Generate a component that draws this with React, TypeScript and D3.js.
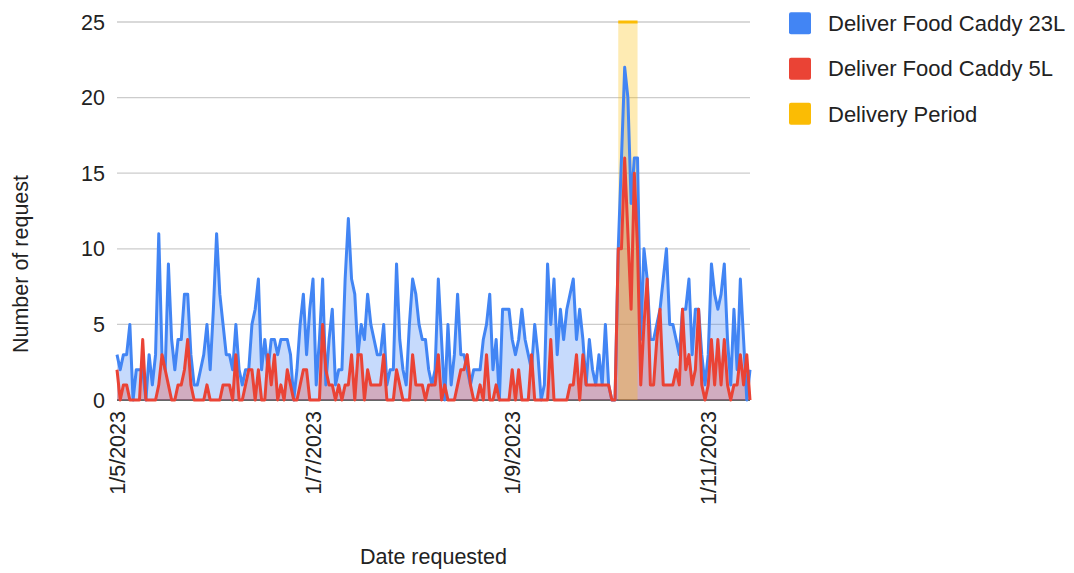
import React from "react";
import * as d3 from "d3";

// ---- data ----
const startDate = "2023-05-01"; // first day of daily series
const blue23L = [
  3, 2, 3, 3, 5, 0, 2, 2, 2, 0,
  3, 1, 3, 11, 3, 2, 9, 4, 2, 4,
  4, 7, 7, 3, 1, 1, 2, 3, 5, 2,
  6, 11, 7, 5, 3, 3, 2, 5, 2, 1,
  2, 2, 5, 6, 8, 2, 4, 2, 4, 4,
  3, 4, 4, 4, 3, 0, 2, 5, 7, 3,
  6, 8, 1, 4, 8, 1, 4, 6, 1, 2,
  2, 8, 12, 8, 7, 3, 5, 4, 7, 5,
  4, 3, 3, 5, 1, 2,
  2, 9, 4, 2, 1, 5, 8, 7, 5, 4, 4, 2, 1, 2, 8, 4, 0, 5, 1, 3, 7, 3, 3, 2, 1, 2,
  2, 2, 4, 5, 7, 2, 4, 0, 6, 6, 6, 4, 3, 4, 6, 4, 3, 2, 5, 3,
  0, 1, 9, 5, 8, 3, 6, 4, 6, 7, 8, 4, 6, 4, 1, 4, 2, 1, 3, 1,
  5, 1, 0, 0, 10, 16, 22, 20, 13, 16, 16, 4, 10, 8, 4, 4, 5, 6, 8, 10,
  5, 5, 4, 3, 6, 6, 8, 3, 6, 6, 3, 1, 3, 9, 7, 6, 7, 9, 4, 1,
  6, 2, 8, 4, 0, 2,
];
const red5L = [
  2, 0, 1, 1, 0, 0, 0, 0, 4, 0,
  0, 0, 0, 1, 3, 2, 1, 0, 0, 1,
  1, 2, 4, 1, 0, 0, 0, 0, 1, 0,
  0, 0, 0, 1, 1, 1, 0, 3, 0, 0,
  1, 2, 2, 0, 2, 0, 0, 3, 1, 3,
  0, 1, 0, 2, 1, 0, 0, 1, 2, 2,
  0, 0, 0, 0, 5, 2, 1, 1, 0, 1,
  0, 1, 1, 3, 0, 3, 3, 0, 2, 1,
  1, 1, 1, 3, 0, 0,
  0, 2, 1, 0, 0, 0, 3, 1, 1, 1, 0, 1, 1, 1, 3, 0, 1, 0, 0, 0, 1, 2, 2, 3, 1, 0,
  0, 1, 0, 3, 0, 0, 1, 0, 0, 0, 0, 2, 0, 2, 0, 0, 0, 3, 0, 0,
  0, 0, 0, 4, 0, 0, 0, 0, 0, 1, 1, 3, 0, 3, 1, 1, 1, 1, 1, 1,
  1, 1, 0, 0, 10, 10, 16, 11, 6, 15, 10, 1, 5, 8, 1, 1, 4, 6, 1, 1,
  1, 1, 2, 1, 6, 2, 3, 1, 2, 6, 1, 0, 1, 4, 1, 4, 1, 4, 1, 0,
  1, 1, 3, 1, 3, 0,
];
const deliveryPeriod = ["2023-10-04", "2023-10-10"];
const deliveryLevel = 25;
const yTicks = [0, 5, 10, 15, 20, 25];
const xTickDates = ["2023-05-01", "2023-07-01", "2023-09-01", "2023-11-01"];
const xTickLabels = ["1/5/2023", "1/7/2023", "1/9/2023", "1/11/2023"];
const seriesNames = ["Deliver Food Caddy 23L", "Deliver Food Caddy 5L", "Delivery Period"];
const seriesColors = ["#4285f4", "#ea4335", "#fbbc04"];

const FONT = "Arial, 'Liberation Sans', sans-serif";

export default function App() {
  const parse = d3.timeParse("%Y-%m-%d");
  const start = parse(startDate) as Date;
  const dates = blue23L.map((_, i) => d3.timeDay.offset(start, i));

  const left = 117, right = 750, top = 22, bottom = 400;
  const x = d3.scaleTime().domain([dates[0], dates[dates.length - 1]]).range([left, right]);
  const y = d3.scaleLinear().domain([0, 25]).range([bottom, top]);

  const areaGen = d3
    .area<number>()
    .x((_, i) => x(dates[i]))
    .y0(y(0))
    .y1((d) => y(d));
  const lineGen = d3
    .line<number>()
    .x((_, i) => x(dates[i]))
    .y((d) => y(d));

  const p0 = parse(deliveryPeriod[0]) as Date;
  const p1 = parse(deliveryPeriod[1]) as Date;
  const periodDays = d3.timeDay.range(p0, d3.timeDay.offset(p1, 1));
  const periodArea = d3
    .area<Date>()
    .x((d) => x(d))
    .y0(y(0))
    .y1(y(deliveryLevel));
  const periodLine = d3
    .line<Date>()
    .x((d) => x(d))
    .y(y(deliveryLevel));

  const legendY = [23.3, 68.7, 113.8];

  return (
    <svg
      width={1074}
      height={573}
      style={{ position: "absolute", left: 0, top: 0, background: "#fff" }}
      fontFamily={FONT}
    >
      {/* gridlines */}
      {yTicks.map((t) =>
        t === 0 ? null : (
          <line key={t} x1={left} x2={right} y1={y(t)} y2={y(t)} stroke="#cccccc" strokeWidth={1.3} />
        )
      )}
      {/* y tick labels */}
      {yTicks.map((t) => (
        <text key={t} x={105} y={y(t)} dy="0.35em" textAnchor="end" fontSize={21.5} fill="#222">
          {t}
        </text>
      ))}
      {/* baseline */}
      <line x1={left} x2={right} y1={y(0)} y2={y(0)} stroke="#333" strokeWidth={1.3} />

      {/* areas */}
      <path d={areaGen(blue23L) || ""} fill={seriesColors[0]} fillOpacity={0.3} />
      <path d={areaGen(red5L) || ""} fill={seriesColors[1]} fillOpacity={0.3} />
      <path d={periodArea(periodDays) || ""} fill={seriesColors[2]} fillOpacity={0.3} />

      {/* lines */}
      <path d={lineGen(blue23L) || ""} fill="none" stroke={seriesColors[0]} strokeWidth={3} strokeLinejoin="round" />
      <path d={lineGen(red5L) || ""} fill="none" stroke={seriesColors[1]} strokeWidth={3} strokeLinejoin="round" />
      <path d={periodLine(periodDays) || ""} fill="none" stroke={seriesColors[2]} strokeWidth={3} />

      {/* x tick labels */}
      {xTickDates.map((ds, i) => {
        const xx = x(parse(ds) as Date);
        return (
          <text
            key={ds}
            transform={`translate(${xx},411) rotate(-90)`}
            dy="0.35em"
            textAnchor="end"
            fontSize={21.5}
            fill="#222"
          >
            {xTickLabels[i]}
          </text>
        );
      })}

      {/* axis titles */}
      <text x={(left + right) / 2} y={564} textAnchor="middle" fontSize={21.5} fill="#222">
        Date requested
      </text>
      <text transform="translate(28,264) rotate(-90)" textAnchor="middle" fontSize={21.5} fill="#222">
        Number of request
      </text>

      {/* legend */}
      {seriesNames.map((name, i) => (
        <g key={name}>
          <rect x={789} y={legendY[i] - 11} width={22} height={22} rx={2} fill={seriesColors[i]} />
          <text x={828} y={legendY[i]} dy="0.35em" fontSize={22} fill="#222">
            {name}
          </text>
        </g>
      ))}
    </svg>
  );
}
